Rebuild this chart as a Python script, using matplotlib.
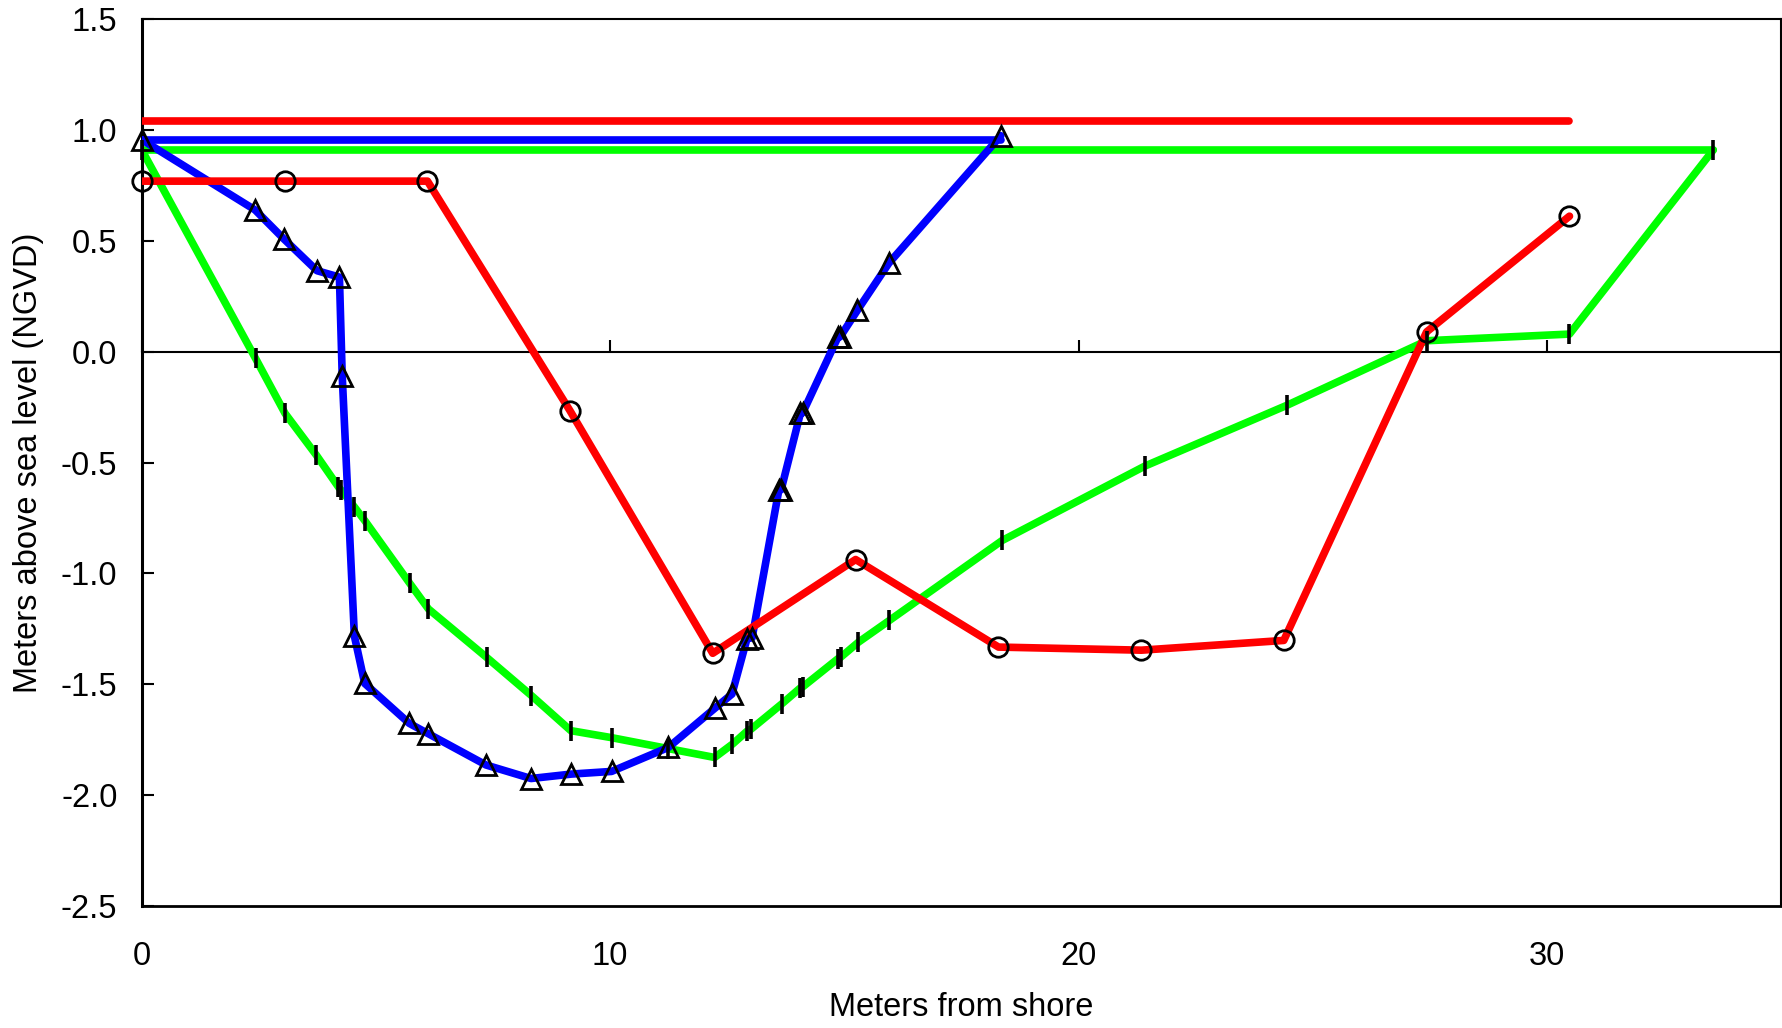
import matplotlib
matplotlib.use("Agg")
import matplotlib.pyplot as plt

plt.rcParams['font.family'] = ['Liberation Sans', 'DejaVu Sans']

# transect 1 (red, circles)
red_x = [0, 3.05, 6.1, 9.14, 12.19, 15.24, 18.29, 21.34, 24.38, 27.43, 30.48]
red_y = [0.77, 0.77, 0.77, -0.265, -1.36, -0.937, -1.332, -1.346, -1.302, 0.09, 0.612]
red_water = 1.042
red_water_end = 30.48

# transect 2 (blue, triangles)
blue_x = [0, 2.42, 3.04, 3.74, 4.22, 4.28, 4.54, 4.76, 5.71, 6.11, 7.35, 8.31,
          9.17, 10.03, 11.24, 12.24, 12.6, 12.92, 13.03, 13.6, 13.65, 14.06, 14.11,
          14.86, 14.91, 15.28, 15.95, 18.34]
blue_y = [0.957, 0.64, 0.508, 0.366, 0.337, -0.11, -1.283, -1.496, -1.676, -1.722,
          -1.864, -1.925, -1.905, -1.893, -1.785, -1.607, -1.544, -1.295, -1.29,
          -0.625, -0.622, -0.278, -0.275, 0.065, 0.068, 0.188, 0.40, 0.975]
blue_water = 0.957
blue_water_end = 18.34

# transect 3 (green, bars)
green_x = [0, 2.43, 3.06, 3.73, 4.2, 4.26, 4.54, 4.77, 5.72, 6.12, 7.36, 8.32,
           9.16, 10.04, 11.24, 12.23, 12.61, 12.92, 13.01, 13.66, 14.05, 14.12,
           14.86, 14.92, 15.3, 15.96, 18.37, 21.41, 24.45, 27.43, 30.48, 33.55]
green_y = [0.911, -0.03, -0.278, -0.467, -0.61, -0.625, -0.70, -0.764, -1.044,
           -1.16, -1.378, -1.551, -1.709, -1.741, -1.79, -1.83, -1.77, -1.712,
           -1.702, -1.589, -1.518, -1.51, -1.385, -1.378, -1.31, -1.212, -0.851,
           -0.516, -0.241, 0.05, 0.08, 0.911]
green_water = 0.911
green_water_end = 33.55

x_ticks = [0, 10, 20, 30]
y_ticks = [1.5, 1.0, 0.5, 0.0, -0.5, -1.0, -1.5, -2.0, -2.5]

fig = plt.figure(figsize=(17.83, 10.28), dpi=100)
ax = fig.add_axes([0.0795, 0.1187, 0.9195, 0.8625])

lw = 5.5
# green
ax.plot(green_x, green_y, color='#00ff00', lw=lw, zorder=2, solid_capstyle='round')
ax.plot([0, green_water_end], [green_water, green_water], color='#00ff00', lw=lw,
        zorder=2, solid_capstyle='round')
# blue
ax.plot(blue_x, blue_y, color='#0000ff', lw=lw, zorder=3, solid_capstyle='round')
ax.plot([0, blue_water_end], [blue_water, blue_water], color='#0000ff', lw=lw,
        zorder=3, solid_capstyle='round')
# red
ax.plot(red_x, red_y, color='#ff0000', lw=lw, zorder=4, solid_capstyle='round')
ax.plot([0, red_water_end], [red_water, red_water], color='#ff0000', lw=lw,
        zorder=4, solid_capstyle='round')

# markers
ax.plot(green_x, green_y, ls='none', marker='|', ms=15, mew=2.6, color='black',
        zorder=6, clip_on=False)
ax.plot(blue_x, blue_y, ls='none', marker='^', ms=15, mew=2.0, mfc='none',
        mec='black', zorder=6, clip_on=False)
ax.plot(red_x, red_y, ls='none', marker='o', ms=14, mew=2.0, mfc='none',
        mec='black', zorder=6, clip_on=False)

ax.set_xlim(0, 35)
ax.set_ylim(-2.5, 1.5)

ax.set_yticks(y_ticks)
ax.set_yticklabels([f"{v:.1f}" for v in y_ticks])
ax.tick_params(axis='y', direction='in', length=8.5, width=1.5, pad=17.5, labelsize=23.5)
ax.set_xticks(x_ticks)
ax.tick_params(axis='x', length=0, pad=25, labelsize=23.5)

for s in ax.spines.values():
    s.set_linewidth(1.5)
ax.spines['left'].set_linewidth(2.2)
ax.spines['bottom'].set_linewidth(2.0)

# zero line with ticks
zero_pos = (0 - (-2.5)) / (1.5 - (-2.5))
sec = ax.secondary_xaxis(zero_pos)
sec.set_xticks(x_ticks)
sec.xaxis.set_ticks_position('bottom')
sec.tick_params(axis='x', direction='in', length=8.5, width=1.5, labelbottom=False,
                labeltop=False)
for s in sec.spines.values():
    s.set_linewidth(1.5)
    s.set_zorder(1)

ax.set_xlabel("Meters from shore", fontsize=23.5)
ax.set_ylabel("Meters above sea level (NGVD)", fontsize=23.5)
ax.xaxis.set_label_coords(0.5, -0.0965)
ax.yaxis.set_label_coords(-0.0597, 0.5)

fig.savefig("out.png", dpi=100)
